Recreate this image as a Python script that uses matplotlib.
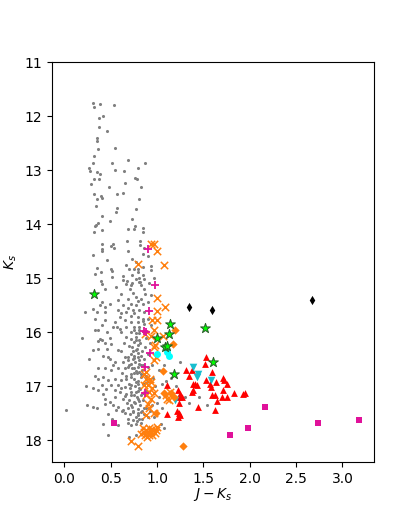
import matplotlib
matplotlib.use("Agg")
import matplotlib.pyplot as plt
import numpy as np

# gray field stars: (J-Ks, Ks)
gray = [
(0.315,11.75),(0.385,11.78),(0.533,11.80),(0.321,11.83),(0.414,12.00),(0.379,12.03),(0.374,12.20),
(0.463,12.27),(0.350,12.41),(0.357,12.46),(0.360,12.60),(0.548,12.59),(0.318,12.74),(0.310,12.86),
(0.516,12.87),(0.686,12.81),(0.873,12.87),(0.262,12.95),(0.795,12.95),(0.276,13.02),(0.350,13.03),
(0.544,12.99),(0.647,13.02),(0.382,13.07),(0.326,13.17),(0.374,13.17),(0.767,13.15),(0.785,13.17),
(0.283,13.25),(0.654,13.24),(0.485,13.31),(0.827,13.31),(0.318,13.44),(0.569,13.44),(0.629,13.42),
(0.392,13.48),(0.406,13.52),(0.350,13.54),(0.809,13.53),(0.347,13.67),(0.565,13.69),(0.559,13.77),
(0.777,13.72),(0.410,13.84),(0.732,13.91),(0.498,13.93),(0.368,13.98),(0.339,14.02),(0.760,14.04),
(0.689,14.09),(0.753,14.09),(0.845,14.07),(0.406,14.11),(0.336,14.04),(0.321,14.14),(0.845,14.14),
(0.682,14.31),(0.820,14.31),(0.817,14.39),(0.856,14.43),(0.406,14.36),(0.527,14.36),(0.509,14.40),
(0.538,14.43),(0.403,14.45),(0.406,14.50),(0.308,14.57),(0.905,14.59),(0.463,14.66),(0.732,14.65),
(0.668,14.76),(0.703,14.82),(0.750,14.82),(0.795,14.82),(0.845,14.80),(0.933,14.78),(0.933,14.84),
(0.350,14.81),(0.392,14.88),(0.332,14.92),(0.509,14.83),(0.520,14.86),(0.516,14.98),(0.729,14.93),
(0.792,14.89),(0.845,14.93),(0.771,15.02),(0.633,15.04),(0.679,15.05),(0.817,15.07),(0.862,15.02),
(0.968,14.99),(0.919,15.08),(0.396,15.05),(0.410,15.10),(0.729,15.09),
(0.438,15.19),(0.562,15.16),(0.668,15.10),(0.721,15.13),(0.809,15.07),(0.827,15.13),(0.862,15.19),
(0.739,15.28),(0.774,15.35),(0.686,15.38),(0.827,15.38),(0.933,15.31),(0.580,15.41),(0.403,15.44),
(0.385,15.50),(0.438,15.53),(0.315,15.56),(0.491,15.47),(0.633,15.50),(0.721,15.47),(0.774,15.50),
(0.845,15.47),(0.898,15.44),(0.226,15.62),(0.350,15.62),(0.438,15.62),(0.580,15.59),(0.615,15.65),
(0.668,15.62),(0.739,15.59),(0.809,15.59),(0.862,15.62),(0.597,15.72),(0.721,15.69),(0.792,15.72),
(0.845,15.75),(0.898,15.75),(0.332,15.75),(0.438,15.78),(0.544,15.81),(0.650,15.78),(0.721,15.81),
(0.792,15.81),(0.862,15.84),(0.403,15.87),(0.527,15.90),(0.597,15.93),(0.668,15.90),(0.756,15.90),
(0.809,15.90),(0.933,15.87),(0.332,15.96),(0.368,15.96),(0.456,15.99),(0.615,15.99),(0.721,15.99),
(0.756,15.96),(0.774,16.02),(0.809,16.02),(0.880,15.99),(0.385,16.12),(0.668,16.09),
(0.368,16.17),(0.403,16.15),(0.438,16.19),(0.315,16.33),(0.368,16.31),(0.456,16.30),(0.509,16.21),
(0.580,16.33),(0.615,16.35),(0.421,16.43),(0.474,16.46),(0.491,16.49),(0.544,16.55),(0.633,16.55),
(0.686,16.52),(0.739,16.49),(0.756,16.43),(0.774,16.33),(0.792,16.24),(0.809,16.15),(0.756,16.18),
(0.721,16.12),(0.774,16.09),(0.827,16.43),(0.809,16.52),(0.827,16.61),(0.792,16.64),(0.756,16.67),
(0.721,16.58),(0.686,16.64),(0.650,16.67),(0.580,16.67),(0.509,16.70),(0.438,16.67),(0.368,16.67),
(0.332,16.80),(0.368,16.86),(0.421,16.83),(0.474,16.89),(0.544,16.86),(0.615,16.89),(0.668,16.86),
(0.721,16.83),(0.756,16.76),(0.809,16.73),(0.827,16.83),(0.774,16.92),(0.721,16.98),(0.650,17.01),
(0.580,16.98),(0.509,16.98),(0.403,16.98),(0.845,16.95),(0.880,16.86),
(0.024,17.43),(0.244,17.35),(0.315,17.03),(0.368,17.06),(0.421,17.14),(0.438,17.23),(0.315,17.38),
(0.350,17.40),(0.438,17.32),(0.491,17.29),(0.527,17.35),(0.562,17.43),(0.474,17.51),(0.421,17.69),
(0.580,17.71),(0.467,17.91),(0.544,17.07),(0.615,17.04),(0.633,17.23),(0.668,17.14),(0.721,17.17),
(0.580,17.38),(0.633,17.44),(0.686,17.41),(0.721,17.35),(0.756,17.29),(0.792,17.23),(0.827,17.17),
(0.774,17.10),(0.809,17.03),(0.739,17.47),(0.792,17.54),(0.686,17.60),(0.739,17.63),(0.809,17.60),
(0.774,17.69),(0.721,17.72),(0.827,17.47),(0.862,17.41),(0.898,17.57),(0.774,17.91),(0.703,17.94),
(1.039,17.69),(1.074,17.78),(0.968,17.57),
(0.70,16.25),(0.78,16.30),(0.84,16.35),(0.72,16.40),(0.80,16.45),(0.86,16.50),(0.76,16.55),
(0.70,16.60),(0.84,16.70),(0.78,16.75),(0.72,16.78),(0.88,16.80),(0.80,16.90),(0.86,16.95),
(0.70,16.95),(0.76,17.00),(0.82,17.05),(0.88,17.08),(0.72,17.10),(0.78,17.20),(0.85,17.25),
(0.70,17.25),(0.76,17.30),(0.82,17.35),(0.88,17.40),(0.68,17.30),(0.74,17.45),(0.80,17.50),
(0.86,17.52),(0.78,17.65),(0.84,17.60),(0.66,17.50),(0.62,17.45),(0.92,17.45),(0.95,17.35),
(1.00,17.30),(1.05,17.40),(1.02,17.20),(0.98,17.00),(1.05,16.95),(1.10,16.90),(1.15,16.85),
(1.20,17.00),(1.30,17.20),(1.35,17.30),(1.45,17.20),(1.25,16.55),(1.08,16.60),(1.02,16.70),
(0.96,16.85),(0.95,16.60),(0.90,16.40),(0.92,16.20),(0.88,16.10),(0.82,16.20),(1.541,17.34),
(0.74,16.35),(0.66,16.45),(0.62,16.75),(0.60,17.10),(0.55,17.20),(0.64,16.20),(0.90,16.65),
(0.73,16.27),(0.79,16.38),(0.75,16.47),(0.81,16.58),(0.73,16.66),(0.77,16.71),(0.83,16.77),
(0.75,16.86),(0.79,16.95),(0.71,17.04),(0.79,17.08),(0.85,17.13),(0.75,17.16),(0.81,17.28),
(0.73,17.38),(0.79,17.42),(0.84,17.46),(0.77,17.57),(0.71,17.52),(0.83,17.68),(0.69,17.68),
(0.87,16.27),(0.85,16.60),(0.89,16.92),(0.67,16.80),(0.65,17.18),(0.69,16.45),(0.77,16.15),
(0.81,15.95),(0.85,15.80),(0.75,15.65),(0.69,15.55),(0.79,15.42),(0.87,15.30),(0.71,15.20),
(0.81,15.00),(0.63,14.95),(0.77,14.70),(0.85,14.55),(0.69,14.50),(0.61,15.30),(0.57,15.90),
(0.49,16.10),(0.53,16.60),(0.45,17.05),(0.51,17.60),(0.27,16.50),(0.23,17.00),(0.19,16.10),
]

orange_x = [
(0.933,14.37),(0.968,14.37),(1.004,14.49),(0.798,14.73),(1.074,14.76),(1.004,15.36),(1.085,15.54),
(0.997,15.61),(0.944,15.77),(1.004,15.77),(0.968,15.95),(0.873,16.04),(0.933,16.07),(1.067,16.07),
(0.979,16.24),(0.968,16.27),(0.986,16.46),(0.968,16.52),(0.880,16.73),(0.862,16.77),(0.880,16.86),
(0.930,16.86),(0.933,16.92),(0.898,16.98),(0.862,16.98),(0.951,17.04),(0.915,17.10),(1.145,17.10),
(0.968,17.12),(0.880,17.17),(1.092,17.17),(0.933,17.23),(1.110,17.23),(1.127,17.26),(0.898,17.32),
(0.915,17.41),(0.968,17.49),(0.880,17.54),
(0.85,17.78),(0.88,17.80),(0.91,17.78),(0.95,17.79),(0.99,17.80),(0.86,17.84),(0.90,17.85),
(0.94,17.84),(0.98,17.86),(0.87,17.90),(0.91,17.90),(0.95,17.91),(0.83,17.88),(0.89,17.93),
(1.00,17.76),(0.721,18.01),(0.792,18.11),
]

red_tri = [
(1.534,16.46),(1.516,16.59),(1.312,16.70),(1.375,16.70),(1.598,16.73),(1.103,16.98),(1.393,16.95),
(1.428,16.98),(1.534,16.88),(1.569,16.96),(1.640,16.92),(1.710,16.84),(1.728,16.88),(1.753,16.95),
(1.587,17.01),(1.375,17.10),(1.393,17.07),(1.227,17.07),(1.251,17.14),(1.233,17.19),(1.269,17.20),
(1.710,17.07),(1.598,17.17),(1.622,17.17),(1.704,17.19),(1.753,17.19),(1.835,17.12),(1.923,17.14),
(1.951,17.12),(1.240,17.31),(1.647,17.28),(1.445,17.38),(1.622,17.43),(1.110,17.52),(1.216,17.46),
(1.233,17.49),(1.222,17.57),(1.244,17.54),(1.350,16.81),(1.410,16.95),
]

cyan_tri = [(1.393,16.65),(1.445,16.77),(1.428,16.83),(1.587,16.89),(1.191,17.26)]
cyan_circ = [(1.004,16.41),(1.103,16.37),(1.127,16.44)]

green_star = [
(0.326,15.30),(1.145,15.84),(1.516,15.92),(1.135,16.04),(1.004,16.10),(1.085,16.27),(1.110,16.26),
(1.605,16.55),(1.180,16.77),
]

orange_dia = [(1.191,15.95),(1.174,16.22),(1.064,16.72),(1.074,17.12),(1.153,17.12),(1.180,17.20),
              (0.986,17.49),(1.276,18.11)]

mag_plus = [(0.898,14.46),(0.979,15.13),(0.915,15.61),(0.856,15.97),(0.880,15.99),(0.926,16.38),
            (0.873,16.64),(0.869,17.12)]

mag_sq = [(0.537,17.68),(1.785,17.91),(1.986,17.78),(2.167,17.38),(2.733,17.68),(3.178,17.62)]

black_dia = [(1.347,15.54),(1.598,15.59),(2.669,15.41)]

fig = plt.figure(figsize=(4.15, 5.19), dpi=100)
ax = fig.add_subplot(111)

def sc(data, **kw):
    a = np.array(data)
    ax.scatter(a[:, 0], a[:, 1], **kw)

sc(gray, s=5, color='gray', linewidths=0)
sc(orange_x, s=28, marker='x', color='tab:orange', linewidths=1.1)
sc(red_tri, s=24, marker='^', color='red', linewidths=0)
sc(cyan_tri, s=30, marker='v', color='tab:cyan', linewidths=0)
sc(cyan_circ, s=25, marker='o', color='cyan', linewidths=0)
sc(orange_dia, s=18, marker='D', color='tab:orange', linewidths=0)
sc(green_star, s=55, marker='*', color='lime', edgecolors='#2a5a2a', linewidths=0.7)
sc(mag_plus, s=35, marker='+', color='#e0119a', linewidths=1.3)
sc(mag_sq, s=16, marker='s', color='#e0119a', linewidths=0)
sc(black_dia, s=22, marker='d', color='black', linewidths=0)

ax.set_ylim(18.4, 11.0)
ax.set_xlabel(r'$J-K_s$', labelpad=0)
ax.set_ylabel(r'$K_s$')

fig.savefig('out.png', dpi=100)
